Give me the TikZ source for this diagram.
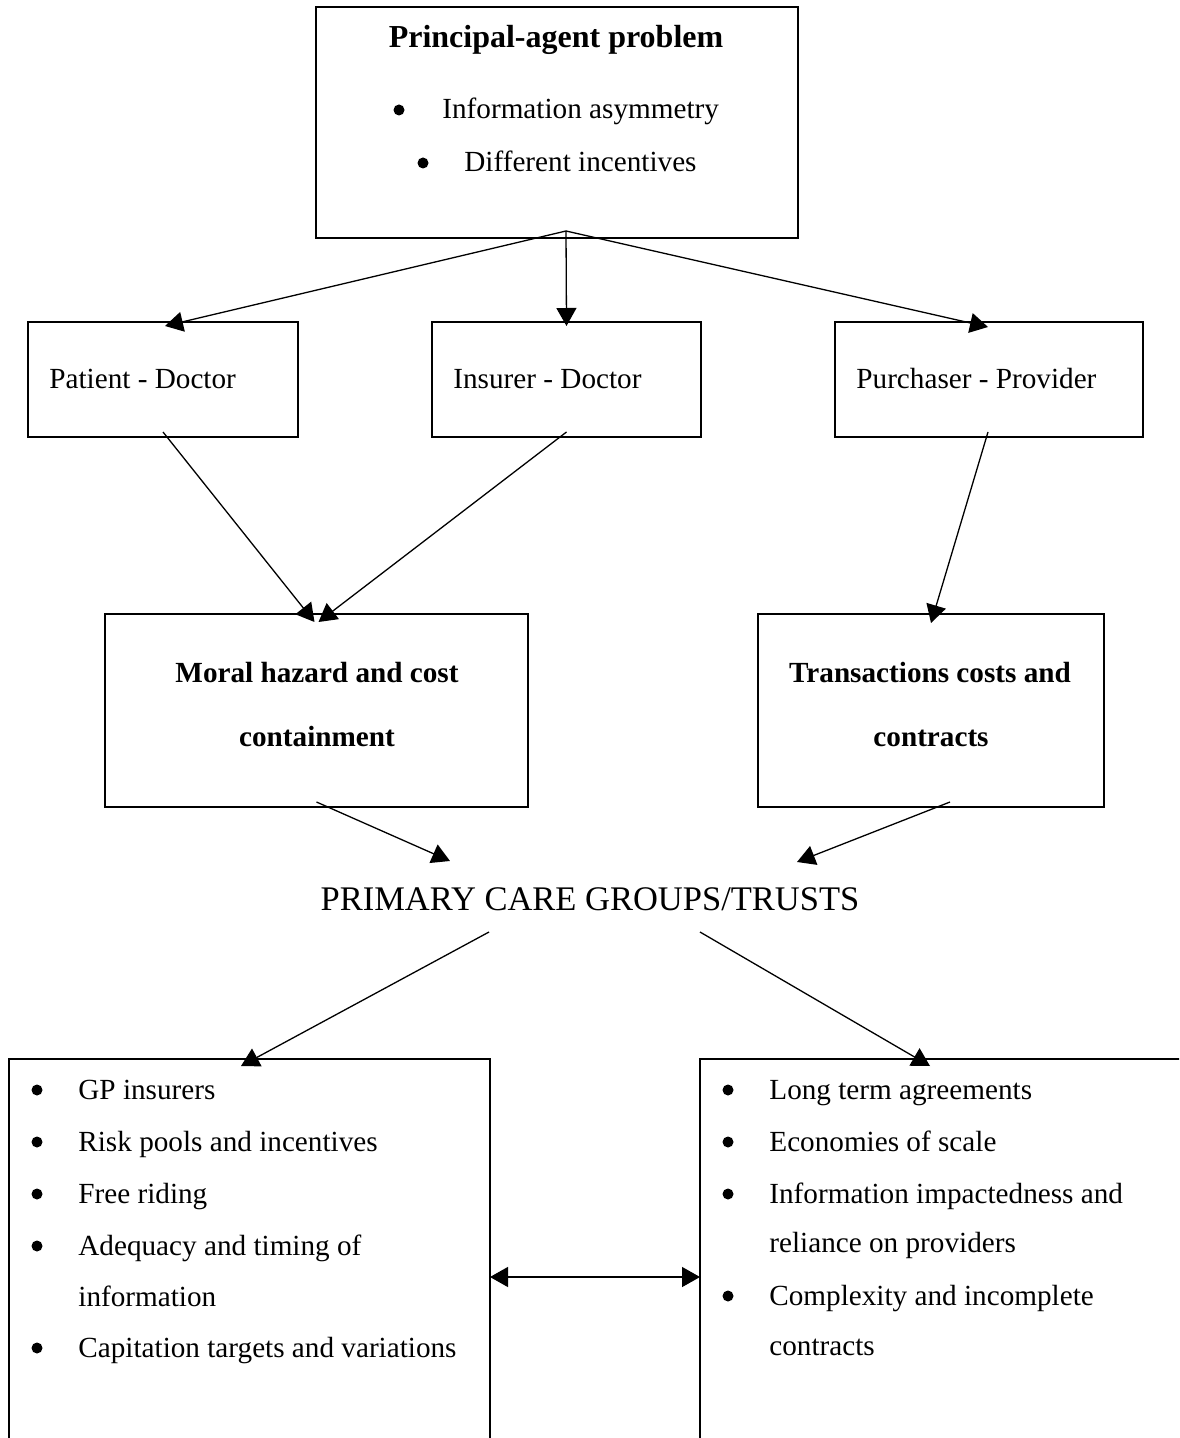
\documentclass[tikz,border=0pt]{standalone}
\usepackage{fontspec}
\setmainfont{Liberation Serif}
\usetikzlibrary{arrows.meta,calc}
\begin{document}
\begin{tikzpicture}[x=0.5pt,y=-0.5pt,
  box/.style={draw, line width=0.9pt, inner sep=0pt, outer sep=0pt, anchor=north west},
  txt/.style={inner sep=0pt, anchor=base west, font=\fontsize{14.6}{17}\selectfont},
  ctxt/.style={inner sep=0pt, anchor=base, font=\fontsize{14.6}{17}\selectfont\bfseries},
  arr/.style={line width=0.65pt, -{Triangle[length=9pt,width=10pt]}},
  darr/.style={line width=0.65pt, {Triangle[length=9pt,width=10pt]}-{Triangle[length=9pt,width=10pt]}},
  bul/.style={fill=black}]
\useasboundingbox (0,0) rectangle (1179,1438);
\clip (0,0) rectangle (1179,1438);
\fill[white] (0,0) rectangle (1179,1438);

% boxes
\node[box, minimum width=241pt, minimum height=115.5pt] (top) at (316,7) {};
\node[box, minimum width=135pt, minimum height=57.5pt] (pd) at (28,322) {};
\node[box, minimum width=134.5pt, minimum height=57.5pt] (id) at (432,322) {};
\node[box, minimum width=154pt, minimum height=57.5pt] (pp) at (835,322) {};
\node[box, minimum width=211.5pt, minimum height=96.5pt] (mh) at (105,614) {};
\node[box, minimum width=173pt, minimum height=96.5pt] (tc) at (758,614) {};
\node[box, minimum width=240.5pt, minimum height=210pt] (lb) at (9,1059) {};
\node[box, minimum width=260pt, minimum height=210pt] (rb) at (700,1059) {};

% top box texts
\node[inner sep=0pt, anchor=base, font=\fontsize{16}{19}\selectfont\bfseries] (title) at (556,48) {Principal-agent problem};
\fill[bul] (399,110) circle (5.5);
\node[txt] (t1) at (442,119) {Information asymmetry};
\fill[bul] (423,163) circle (5.5);
\node[txt] (t2) at (464,172) {Different incentives};

% middle box texts
\node[txt] (pdt) at (49,389) {Patient - Doctor};
\node[txt] (idt) at (453,389) {Insurer - Doctor};
\node[txt] (ppt) at (856,389) {Purchaser - Provider};

\node[ctxt] (mh1) at (317,682) {Moral hazard and cost};
\node[ctxt] (mh2) at (317,746) {containment};
\node[ctxt] (tc1) at (930,682) {Transactions costs and};
\node[ctxt] (tc2) at (931,746) {contracts};

% central label
\node[inner sep=0pt, anchor=base, font=\fontsize{17.25}{20}\selectfont] (pcg) at (590,910) {PRIMARY CARE GROUPS/TRUSTS};

% left list
\foreach \yy in {1099,1151,1203,1255,1357} {\fill[bul] (37,\yy-9) circle (5.5);}
\node[txt] (l1) at (78,1099) {GP insurers};
\node[txt] (l2) at (78,1151) {Risk pools and incentives};
\node[txt] (l3) at (78,1203) {Free riding};
\node[txt] (l4) at (78,1255) {Adequacy and timing of};
\node[txt] (l5) at (78,1306) {information};
\node[txt] (l6) at (78,1357) {Capitation targets and variations};

% right list
\foreach \yy in {1099,1151,1203,1305} {\fill[bul] (728,\yy-9) circle (5.5);}
\node[txt] (r1) at (769,1099) {Long term agreements};
\node[txt] (r2) at (769,1151) {Economies of scale};
\node[txt] (r3) at (769,1203) {Information impactedness and};
\node[txt] (r4) at (769,1252) {reliance on providers};
\node[txt] (r5) at (769,1305) {Complexity and incomplete};
\node[txt] (r6) at (769,1355) {contracts};

% connectors
\draw[arr] ($(top.south)+(9,-7)$) -- ($(pd.north)+(2,4)$);
\draw[arr] ($(top.south)+(9,-7)$) -- ($(id.north)+(0,4)$);
\draw[arr] ($(top.south)+(9,-7)$) -- ($(pp.north)+(-1,5)$);
\draw[arr] ($(pd.south)+(0,-5)$) -- ($(mh.north)+(-2,8)$);
\draw[arr] ($(id.south)+(0,-5)$) -- ($(mh.north)+(2,8)$);
\draw[arr] ($(pp.south)+(-1,-5)$) -- ($(tc.north)+(0,9)$);
\draw[arr] ($(mh.south)+(0,-5)$) -- ($(pcg.base)+(-140,-49)$);
\draw[arr] ($(tc.south)+(19,-5)$) -- ($(pcg.base)+(207,-48)$);
\draw[arr] ($(pcg.base)+(-101,22)$) -- ($(lb.north)+(-8.5,7)$);
\draw[arr] ($(pcg.base)+(110,22)$) -- ($(rb.north)+(-30,7)$);
\draw[darr] ($(lb.east)+(0,8)$) -- ($(rb.west)+(0,8)$);
\end{tikzpicture}
\end{document}
